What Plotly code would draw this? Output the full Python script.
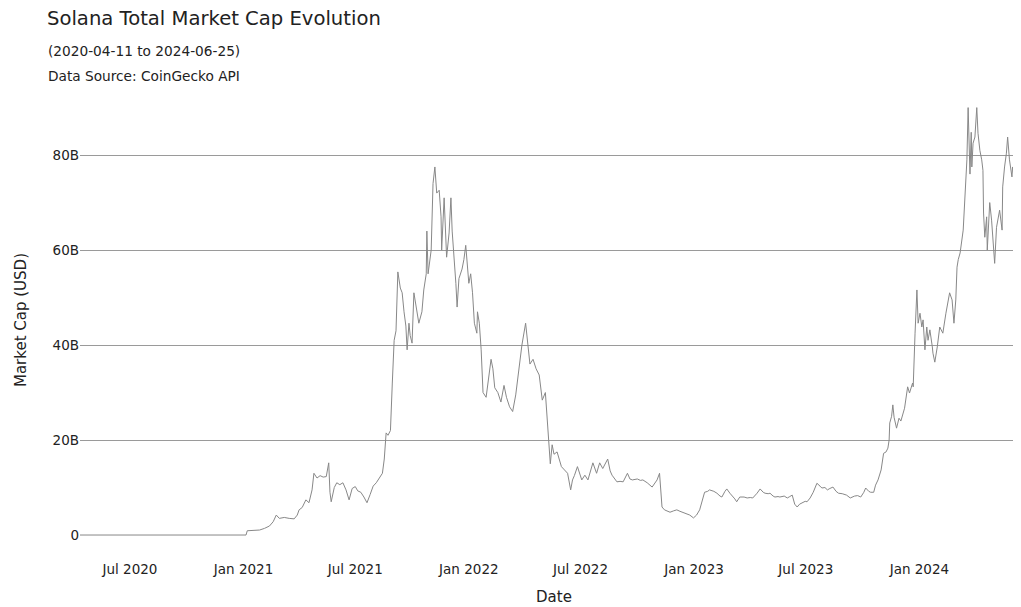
import plotly.graph_objects as go
import pandas as pd

# --- data (date, market cap in billions USD) ---
dates = [
    "2020-04-11", "2021-01-05", "2021-01-07", "2021-01-19", "2021-01-27", "2021-02-04",
    "2021-02-12", "2021-02-18", "2021-02-23", "2021-02-28", "2021-03-08", "2021-03-16",
    "2021-03-24", "2021-03-29", "2021-04-01", "2021-04-06", "2021-04-12", "2021-04-17",
    "2021-04-22", "2021-04-25", "2021-04-30", "2021-05-05", "2021-05-10", "2021-05-15",
    "2021-05-19", "2021-05-21", "2021-05-23", "2021-05-28", "2021-06-01", "2021-06-06",
    "2021-06-11", "2021-06-16", "2021-06-21", "2021-06-26", "2021-07-01", "2021-07-05",
    "2021-07-10", "2021-07-15", "2021-07-20", "2021-07-25", "2021-07-30", "2021-08-04",
    "2021-08-09", "2021-08-14", "2021-08-17", "2021-08-20", "2021-08-23", "2021-08-27",
    "2021-08-30", "2021-09-02", "2021-09-05", "2021-09-08", "2021-09-12", "2021-09-15",
    "2021-09-18", "2021-09-21", "2021-09-23", "2021-09-26", "2021-09-28", "2021-10-01",
    "2021-10-04", "2021-10-08", "2021-10-09", "2021-10-12", "2021-10-17", "2021-10-20",
    "2021-10-24", "2021-10-25", "2021-10-27", "2021-11-01", "2021-11-04", "2021-11-07",
    "2021-11-10", "2021-11-14", "2021-11-17", "2021-11-18", "2021-11-22", "2021-11-25",
    "2021-11-26", "2021-11-30", "2021-12-03", "2021-12-05", "2021-12-08", "2021-12-11",
    "2021-12-13", "2021-12-16", "2021-12-21", "2021-12-24", "2021-12-27", "2022-01-01",
    "2022-01-04", "2022-01-07", "2022-01-10", "2022-01-14", "2022-01-15", "2022-01-18",
    "2022-01-21", "2022-01-24", "2022-01-29", "2022-02-03", "2022-02-06", "2022-02-09",
    "2022-02-12", "2022-02-17", "2022-02-22", "2022-02-27", "2022-03-03", "2022-03-08",
    "2022-03-13", "2022-03-18", "2022-03-23", "2022-03-28", "2022-04-03", "2022-04-07",
    "2022-04-10", "2022-04-15", "2022-04-20", "2022-04-25", "2022-04-30", "2022-05-05",
    "2022-05-08", "2022-05-11", "2022-05-13", "2022-05-16", "2022-05-19", "2022-05-24",
    "2022-05-31", "2022-06-05", "2022-06-10", "2022-06-15", "2022-06-18", "2022-06-21",
    "2022-06-26", "2022-07-03", "2022-07-08", "2022-07-13", "2022-07-16", "2022-07-21",
    "2022-07-27", "2022-08-01", "2022-08-06", "2022-08-10", "2022-08-14", "2022-08-18",
    "2022-08-21", "2022-08-29", "2022-09-03", "2022-09-08", "2022-09-15", "2022-09-19",
    "2022-09-23", "2022-10-01", "2022-10-06", "2022-10-10", "2022-10-17", "2022-10-25",
    "2022-10-30", "2022-11-02", "2022-11-06", "2022-11-10", "2022-11-14", "2022-11-23",
    "2022-11-29", "2022-12-04", "2022-12-09", "2022-12-14", "2022-12-20", "2022-12-25",
    "2022-12-31", "2023-01-05", "2023-01-10", "2023-01-15", "2023-01-18", "2023-01-23",
    "2023-01-26", "2023-02-02", "2023-02-07", "2023-02-12", "2023-02-15", "2023-02-20",
    "2023-02-23", "2023-02-28", "2023-03-03", "2023-03-08", "2023-03-11", "2023-03-16",
    "2023-03-23", "2023-03-28", "2023-04-02", "2023-04-06", "2023-04-13", "2023-04-18",
    "2023-04-23", "2023-04-26", "2023-05-01", "2023-05-04", "2023-05-09", "2023-05-12",
    "2023-05-17", "2023-05-20", "2023-05-27", "2023-06-01", "2023-06-05", "2023-06-09",
    "2023-06-13", "2023-06-17", "2023-06-21", "2023-06-25", "2023-06-30", "2023-07-03",
    "2023-07-08", "2023-07-13", "2023-07-19", "2023-07-24", "2023-07-27", "2023-08-01",
    "2023-08-05", "2023-08-09", "2023-08-14", "2023-08-19", "2023-08-23", "2023-08-29",
    "2023-09-05", "2023-09-11", "2023-09-18", "2023-09-23", "2023-09-28", "2023-10-03",
    "2023-10-06", "2023-10-11", "2023-10-14", "2023-10-19", "2023-10-22", "2023-10-26",
    "2023-10-31", "2023-11-04", "2023-11-08", "2023-11-11", "2023-11-13", "2023-11-14",
    "2023-11-17", "2023-11-19", "2023-11-21", "2023-11-25", "2023-11-29", "2023-12-02",
    "2023-12-05", "2023-12-08", "2023-12-13", "2023-12-16", "2023-12-21", "2023-12-22",
    "2023-12-25", "2023-12-28", "2023-12-30", "2024-01-02", "2024-01-05", "2024-01-07",
    "2024-01-10", "2024-01-13", "2024-01-15", "2024-01-18", "2024-01-22", "2024-01-23",
    "2024-01-26", "2024-01-30", "2024-02-03", "2024-02-08", "2024-02-13", "2024-02-16",
    "2024-02-19", "2024-02-23", "2024-02-26", "2024-02-29", "2024-03-02", "2024-03-04",
    "2024-03-07", "2024-03-12", "2024-03-15", "2024-03-18", "2024-03-20", "2024-03-21",
    "2024-03-23", "2024-03-25", "2024-03-26", "2024-03-28", "2024-03-31", "2024-04-03",
    "2024-04-05", "2024-04-08", "2024-04-11", "2024-04-13", "2024-04-14", "2024-04-16",
    "2024-04-19", "2024-04-20", "2024-04-24", "2024-04-27", "2024-04-29", "2024-05-02",
    "2024-05-05", "2024-05-07", "2024-05-10", "2024-05-14", "2024-05-15", "2024-05-18",
    "2024-05-21", "2024-05-23", "2024-05-26", "2024-05-30", "2024-05-31", "2024-06-03",
    "2024-06-07", "2024-06-08", "2024-06-11", "2024-06-13", "2024-06-18", "2024-06-25",
]

market_cap_b = [
    0.0, 0.0, 0.9, 1.0, 1.05, 1.4,
    1.9, 2.8, 4.2, 3.5, 3.7, 3.5,
    3.4, 4.2, 5.3, 5.8, 7.4, 6.8,
    9.5, 13.0, 12.0, 12.5, 12.2, 12.3,
    15.2, 9.0, 7.0, 10.0, 11.0, 10.6,
    11.0, 9.5, 7.4, 9.8, 10.2, 9.3,
    9.0, 8.0, 6.8, 8.5, 10.3, 11.0,
    12.0, 13.0, 16.0, 21.5, 21.0, 22.0,
    32.0, 41.0, 43.0, 55.4, 52.0, 51.0,
    47.0, 44.0, 39.0, 44.6, 42.0, 40.4,
    51.0, 48.0, 46.7, 44.6, 47.0, 51.6,
    55.0, 64.0, 55.0, 60.0, 74.0, 77.5,
    72.0, 72.6, 67.0, 60.0, 71.0, 62.0,
    58.5, 63.6, 71.0, 64.0, 59.0, 53.0,
    48.0, 54.0, 56.0, 58.0, 61.0, 53.0,
    55.0, 51.0, 44.6, 42.5, 47.0, 44.6,
    39.0, 30.0, 29.0, 34.0, 37.0, 35.0,
    31.0, 30.0, 28.0, 31.5, 29.0, 27.0,
    26.0, 29.5, 35.0, 40.0, 44.6, 40.0,
    36.0, 37.0, 35.0, 33.7, 28.4, 30.0,
    24.0, 20.0, 15.0, 19.0, 17.0, 17.5,
    14.4, 13.7, 13.0, 9.5, 11.6, 12.5,
    14.4, 11.6, 12.6, 11.6, 13.0, 15.2,
    13.0, 15.2, 14.0, 15.0, 16.0, 13.5,
    12.6, 11.2, 11.3, 11.2, 13.0, 11.8,
    11.6, 11.8, 11.5, 11.6, 11.0, 10.1,
    11.0, 11.6, 13.0, 5.9, 5.3, 4.8,
    5.1, 5.3, 5.0, 4.8, 4.5, 4.2,
    3.6, 4.2, 5.3, 8.0, 9.0, 9.2,
    9.5, 9.2, 8.8, 8.2, 8.0, 9.2,
    9.7, 8.8, 8.4, 7.6, 7.0, 8.0,
    8.0, 7.8, 7.9, 7.8, 8.8, 9.7,
    9.0, 8.8, 8.7, 8.8, 8.2, 8.0,
    8.1, 8.0, 8.2, 7.8, 8.1, 8.4,
    6.5, 5.9, 6.5, 6.7, 7.1, 7.0,
    7.8, 9.0, 10.9, 10.3, 9.9, 10.0,
    9.5, 9.8, 10.1, 9.2, 8.8, 8.7,
    8.4, 7.8, 8.2, 8.3, 8.0, 9.0,
    9.9, 9.2, 9.0, 9.0, 10.5, 11.6,
    13.7, 17.2, 17.5, 18.3, 20.0, 23.6,
    25.0, 27.4, 24.8, 22.5, 24.6, 24.0,
    25.3, 26.7, 31.2, 29.9, 32.0, 31.2,
    42.5, 51.6, 44.6, 46.7, 43.8, 45.3,
    39.0, 43.8, 41.0, 43.2, 39.6, 38.3,
    36.4, 39.6, 43.8, 42.5, 46.7, 48.8,
    51.0, 49.5, 44.6, 49.5, 56.4, 58.0,
    59.4, 64.2, 70.5, 79.0, 90.0, 84.6,
    76.0, 84.8, 77.5, 82.5, 83.8, 90.0,
    84.6, 81.0, 79.0, 76.8, 67.8, 62.7,
    67.0, 60.0, 70.0, 66.3, 62.0, 57.2,
    64.8, 66.3, 68.4, 64.2, 73.3, 77.5,
    80.4, 83.8, 79.0, 75.4, 77.5, 74.7,
    76.8, 79.6, 72.6, 69.0, 70.0, 68.0,
]

market_cap = [v * 1e9 for v in market_cap_b]

FONT = "DejaVu Sans, Verdana, sans-serif"

# layout geometry (figure pixels)
W, H = 1100, 631
ML, MR, MT, MB = 72, 80, 73, 80
PW, PH = W - ML - MR, H - MT - MB


def px_x(xf):
    return (xf - ML) / PW


def px_y(yf):
    return 1 + (MT - yf) / PH


fig = go.Figure()
fig.add_trace(go.Scatter(
    x=pd.to_datetime(dates), y=market_cap, mode="lines",
    line=dict(color="#888888", width=1),
    showlegend=False,
))

fig.update_layout(
    width=W, height=H,
    margin=dict(l=ML, r=MR, t=MT, b=MB),
    paper_bgcolor="white", plot_bgcolor="white",
    font=dict(family=FONT, size=13.5, color="#222"),
    title=dict(
        text="Solana Total Market Cap Evolution",
        x=39 / W, xref="container", xanchor="left",
        y=1 - 10.5 / H, yref="container", yanchor="middle",
        font=dict(family=FONT, size=19.6, color="#222"),
    ),
    annotations=[
        dict(text="(2020-04-11 to 2024-06-25)", xref="paper", yref="paper",
             x=px_x(38), y=px_y(43), xanchor="left", yanchor="middle",
             showarrow=False, font=dict(family=FONT, size=13.7, color="#222")),
        dict(text="Data Source: CoinGecko API", xref="paper", yref="paper",
             x=px_x(38), y=px_y(68), xanchor="left", yanchor="middle",
             showarrow=False, font=dict(family=FONT, size=13.7, color="#222")),
    ],
    xaxis=dict(
        title=dict(text="Date", font=dict(size=15)),
        range=["2020-04-11", "2024-06-25"],
        dtick="M6", tick0="2020-07-01", tickformat="%b %Y",
        showgrid=False, zeroline=False, showline=False, ticks="",
    ),
    yaxis=dict(
        title=dict(text="Market Cap (USD)", font=dict(size=15), standoff=22),
        range=[-5.05e9, 95.6e9],
        tick0=0, dtick=20e9, exponentformat="B",
        showgrid=True, gridcolor="#9a9a9a", gridwidth=1,
        zeroline=True, zerolinecolor="white", zerolinewidth=1,
        showline=False, ticks="",
    ),
)

fig.write_html("out.html")
